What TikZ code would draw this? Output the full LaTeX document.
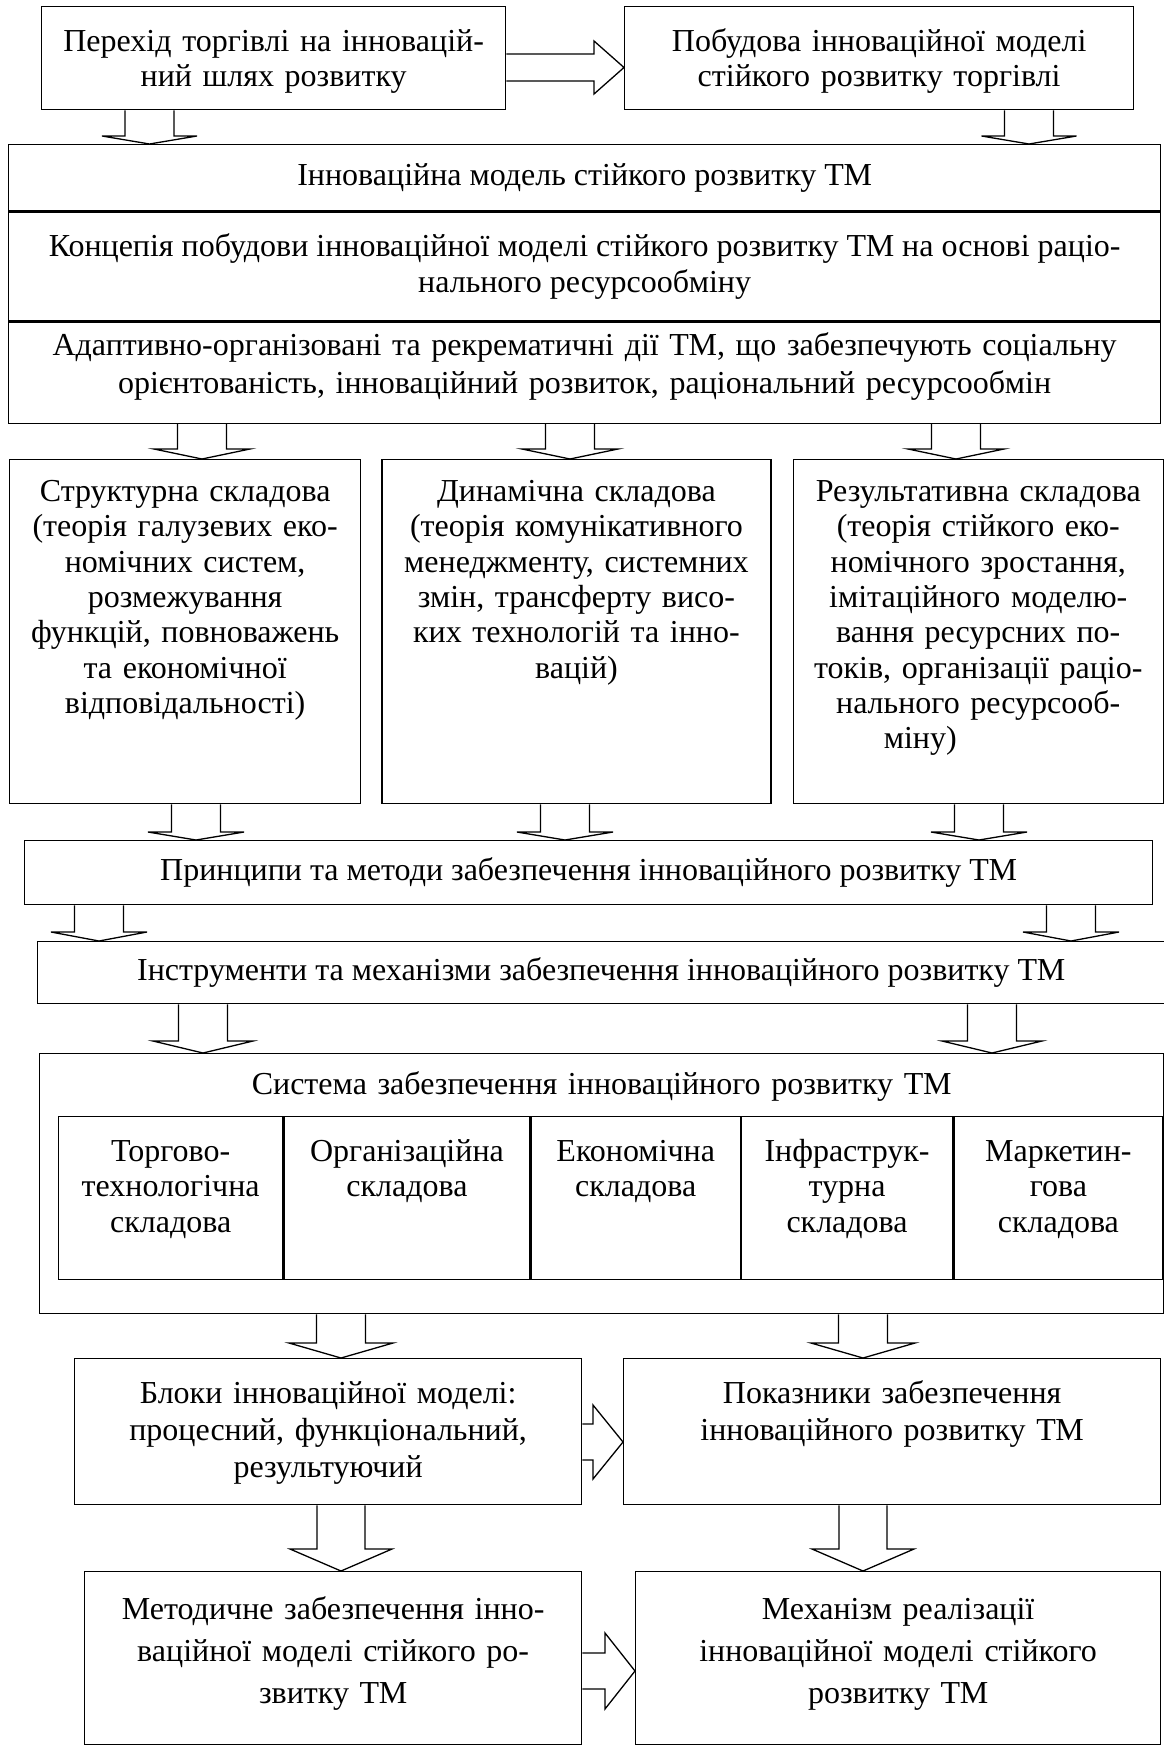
\documentclass[tikz,border=0pt]{standalone}
\usepackage{fontspec}
\setmainfont{Liberation Serif}
\usepackage{tikz}
\usetikzlibrary{positioning,calc}
\newcommand{\tmsize}{\fontsize{32}{35.3}\selectfont}
\tikzset{
  tmbox/.style={draw,line width=1.3pt,anchor=north west,inner sep=0pt,align=center,font=\tmsize},
  tmtop/.style n args={2}{tmbox,text width=#1,text height=45pt,text depth=#2},
  blkdown/.style n args={3}{line width=1.3pt,to path={($(\tikztostart)+(-#1,0)$) -- ($(\tikztotarget)+(-#1,-#3)$) -- ($(\tikztotarget)+(-#2,-#3)$) -- (\tikztotarget) -- ($(\tikztotarget)+(#2,-#3)$) -- ($(\tikztotarget)+(#1,-#3)$) -- ($(\tikztostart)+(#1,0)$)}},
  blkright/.style n args={3}{line width=1.3pt,to path={($(\tikztostart)+(0,-#1)$) -- ($(\tikztotarget)+(-#3,-#1)$) -- ($(\tikztotarget)+(-#3,-#2)$) -- (\tikztotarget) -- ($(\tikztotarget)+(-#3,#2)$) -- ($(\tikztotarget)+(-#3,#1)$) -- ($(\tikztostart)+(0,#1)$)}},
}
\begin{document}
\begin{tikzpicture}[x=1pt,y=-1pt]
\useasboundingbox (0,0) rectangle (1163,1753);
% top row
\node[tmtop={464pt}{58pt}] (perehid) at (41,6) {Перехід торгівлі на інновацій-\\ний шлях розвитку};
\node[tmtop={509pt}{58pt}] (pobudova) at (624,6) {Побудова інноваційної моделі\\стійкого розвитку торгівлі};
% model block
\node[tmbox,minimum width=1152pt,minimum height=66pt] (model) at (8,144) {Інноваційна модель стійкого розвитку ТМ};
\node[tmbox,minimum width=1152pt,minimum height=109pt,below=0pt of model] (konts) {Концепія побудови інноваційної моделі стійкого розвитку ТМ на основі раціо-\\нального ресурсообміну};
\node[tmbox,text width=1152pt,text height=33pt,text depth=68pt,font=\fontsize{32}{38}\selectfont,below=0pt of konts] (adapt) {Адаптивно-організовані та рекрематичні дії ТМ, що забезпечують соціальну\\орієнтованість, інноваційний розвиток, раціональний ресурсообмін};
% components
\node[tmtop={351pt}{302pt},text height=42pt] (strukt) at (9,459) {Структурна складова\\(теорія галузевих еко-\\номічних систем,\\розмежування\\функцій, повноважень\\та економічної\\відповідальності)};
\node[tmtop={389pt}{302pt},text height=42pt,right=20pt of strukt] (dynam) {Динамічна складова\\(теорія комунікативного\\менеджменту, системних\\змін, трансферту висо-\\ких технологій та інно-\\вацій)};
\node[tmtop={370pt}{302pt},text height=42pt,right=21pt of dynam] (rezult) {Результативна складова\\(теорія стійкого еко-\\номічного зростання,\\імітаційного моделю-\\вання ресурсних по-\\токів, організації раціо-\\нального ресурсооб-\\міну)\makebox[116pt]{}};
\node[tmbox,minimum width=1128pt,minimum height=64pt] (pryntsyp) at (24,840) {Принципи та методи забезпечення інноваційного розвитку ТМ};
\node[tmbox,minimum width=1127pt,minimum height=62pt] (instr) at (37,941) {Інструменти та механізми забезпечення інноваційного розвитку ТМ};
% system
\node[tmbox,text width=1124pt,text height=41pt,text depth=219pt] (systema) at (39,1053) {Система забезпечення інноваційного розвитку ТМ};
\node[tmtop={224pt}{118pt}] (torg) at (58,1116) {Торгово-\\технологічна\\складова};
\node[tmtop={246pt}{118pt},right=0pt of torg] (orgn) {Організаційна\\складова};
\node[tmtop={209pt}{118pt},right=0pt of orgn] (ekon) {Економічна\\складова};
\node[tmtop={211pt}{118pt},right=0pt of ekon] (infra) {Інфраструк-\\турна\\складова};
\node[tmtop={209pt}{118pt},right=0pt of infra] (market) {Маркетин-\\гова\\складова};
% bottom
\node[tmtop={507pt}{101pt},font=\fontsize{32}{37}\selectfont] (bloky) at (74,1358) {Блоки інноваційної моделі:\\процесний, функціональний,\\результуючий};
\node[tmtop={537pt}{101pt},font=\fontsize{32}{37}\selectfont] (pokaz) at (623,1358) {Показники забезпечення\\інноваційного розвитку ТМ};
\node[tmtop={497pt}{125pt},text height=48pt,font=\fontsize{32}{42}\selectfont] (metod) at (84,1571) {Методичне забезпечення інно-\\ваційної моделі стійкого ро-\\звитку ТМ};
\node[tmtop={525pt}{125pt},text height=48pt,font=\fontsize{32}{42}\selectfont] (mekh) at (635,1571) {Механізм реалізації\\інноваційної моделі стійкого\\розвитку ТМ};
% arrows
\draw[blkdown={24.5}{47.5}{8}] (149.5,0 |- perehid.south) to (149.5,0 |- model.north);
\draw[blkdown={24.5}{47.5}{8}] (1029,0 |- pobudova.south) to (1029,0 |- model.north);
\draw[blkright={13.5}{26.5}{30}] (perehid.east |- 0,67.5) to (pobudova.west |- 0,67.5);
\foreach \x/\t in {202/strukt,570/dynam,956/rezult}
  \draw[blkdown={24.5}{48}{10}] (\x,0 |- adapt.south) to (\x,0 |- \t.north);
\foreach \x/\s in {196/strukt,565/dynam,979/rezult}
  \draw[blkdown={24.5}{48}{8}] (\x,0 |- \s.south) to (\x,0 |- pryntsyp.north);
\foreach \x in {99,1071}
  \draw[blkdown={24.5}{48}{9}] (\x,0 |- pryntsyp.south) to (\x,0 |- instr.north);
\foreach \x in {203,992}
  \draw[blkdown={24.5}{50}{12}] (\x,0 |- instr.south) to (\x,0 |- systema.north);
\draw[blkdown={24.5}{52}{15}] (341,0 |- systema.south) to (341,0 |- bloky.north);
\draw[blkdown={24.5}{52}{15}] (863,0 |- systema.south) to (863,0 |- pokaz.north);
\draw[blkright={18}{37}{30}] (bloky.east |- 0,1442) to (pokaz.west |- 0,1442);
\draw[blkdown={24}{51}{22}] (341,0 |- bloky.south) to (341,0 |- metod.north);
\draw[blkdown={24}{51}{22}] (863,0 |- pokaz.south) to (863,0 |- mekh.north);
\draw[blkright={18}{38}{30}] (metod.east |- 0,1671) to (mekh.west |- 0,1671);
\end{tikzpicture}
\end{document}
